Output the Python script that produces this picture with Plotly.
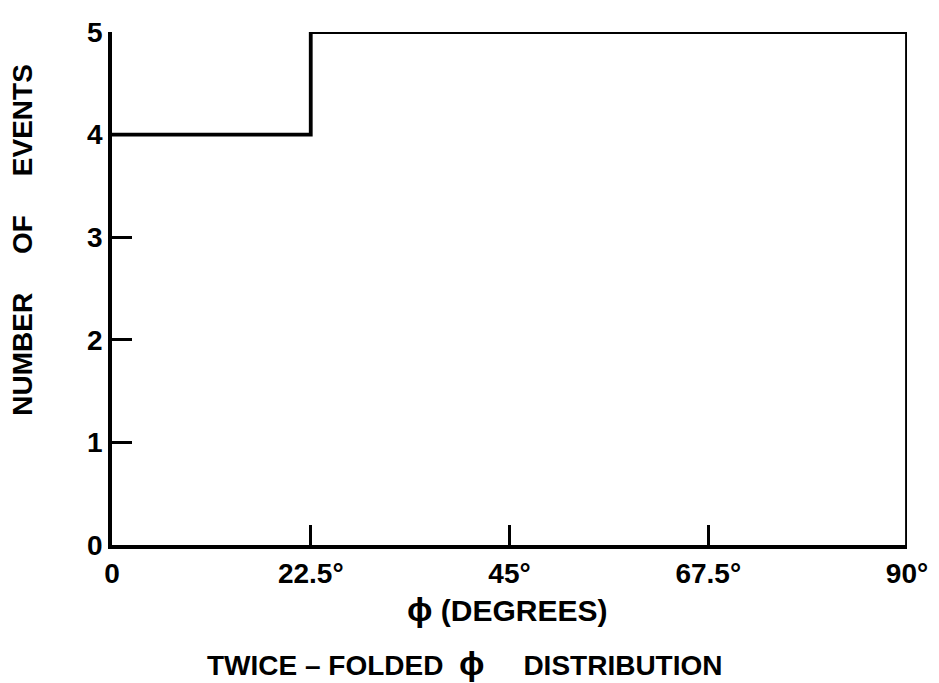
import plotly.graph_objects as go

# Data
bin_edges = [0, 22.5, 45, 67.5, 90]
counts = [4, 5, 5, 5]
x_tick_vals = [0, 22.5, 45, 67.5, 90]
x_tick_text = ["0", "22.5°", "45°", "67.5°", "90°"]
y_tick_vals = [0, 1, 2, 3, 4, 5]
y_tick_text = ["0", "1", "2", "3", "4", "5"]

# step outline: left edges with counts, closing down at the last edge
xs = bin_edges + [bin_edges[-1]]
ys = counts + [counts[-1], 0]

FONT = "Liberation Sans"
NB = "\u00a0"
PHI = '<span style="font-size:34px">ϕ</span>'
fig = go.Figure()
fig.add_trace(go.Scatter(
    x=xs, y=ys, mode="lines", line=dict(shape="hv", color="black", width=3.8),
    cliponaxis=False, showlegend=False, hoverinfo="skip"))

fig.update_layout(
    width=939, height=683,
    margin=dict(l=112, r=32, t=32, b=138),
    paper_bgcolor="white", plot_bgcolor="white",
    font=dict(family=FONT, color="black"),
    xaxis=dict(range=[0, 90], tickvals=x_tick_vals, ticktext=x_tick_text,
               ticks="inside", ticklen=20, tickwidth=2.8, tickcolor="black",
               showline=True, linecolor="black", linewidth=3.8,
               showgrid=False, zeroline=False,
               tickfont=dict(family=FONT, size=28, weight="bold")),
    yaxis=dict(range=[0, 5], tickvals=y_tick_vals, ticktext=y_tick_text,
               ticks="inside", ticklen=20, tickwidth=2.8, tickcolor="black",
               showline=True, linecolor="black", linewidth=3.8,
               showgrid=False, zeroline=False,
               tickfont=dict(family=FONT, size=28, weight="bold")),
    annotations=[
        dict(text="NUMBER" + NB * 5 + "OF" + NB * 5 + "EVENTS", textangle=-90,
             xref="paper", yref="paper", x=-0.112, y=0.595,
             xanchor="center", yanchor="middle", showarrow=False,
             font=dict(family=FONT, size=28, weight="bold")),
        dict(text=PHI + NB + "(DEGREES)", xref="paper", yref="paper",
             x=0.497, y=-0.125, xanchor="center", yanchor="middle", showarrow=False,
             font=dict(family=FONT, size=30, weight="bold")),
        dict(text="TWICE" + NB + "\u2013" + NB + "FOLDED" + NB * 2 + PHI + NB * 5 + "DISTRIBUTION",
             xref="paper", yref="paper",
             x=0.443, y=-0.230, xanchor="center", yanchor="middle", showarrow=False,
             font=dict(family=FONT, size=28, weight="bold")),
    ],
)

fig.write_html("out.html", config={"displayModeBar": False},
               post_script="document.body.style.margin='0px';document.body.style.overflow='hidden';")
